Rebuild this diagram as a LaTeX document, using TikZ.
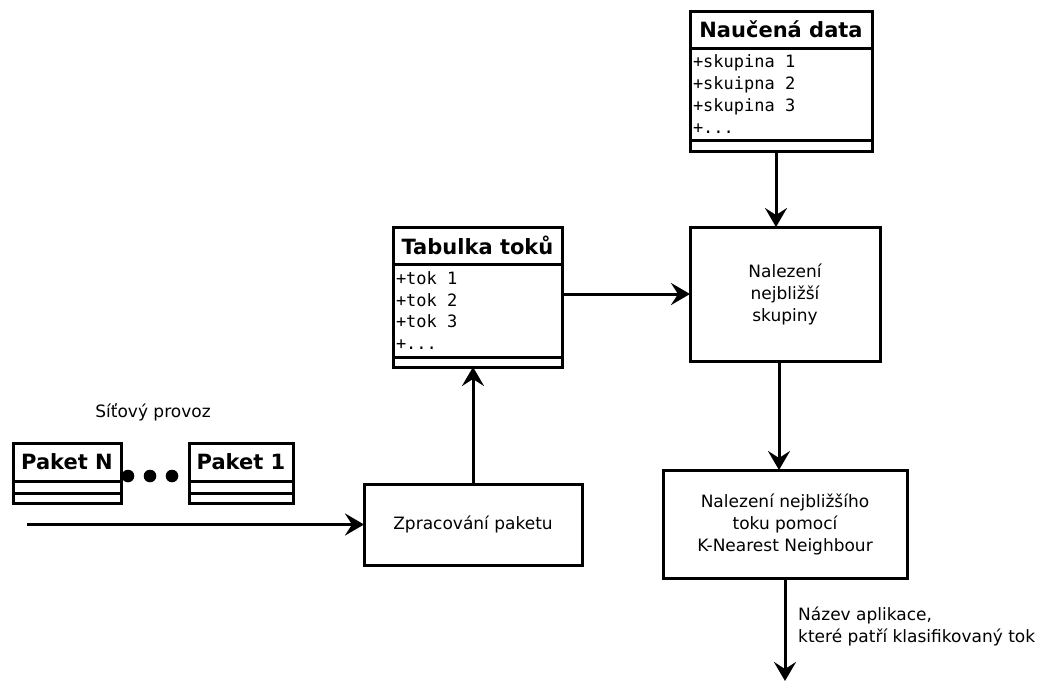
\documentclass[tikz,border=0pt]{standalone}
\usepackage{fontspec}
\setmainfont{DejaVu Sans}
\setmonofont{DejaVu Sans Mono}
\usetikzlibrary{arrows.meta}
% ragged alignment narrows interword spaces; restore the font's own space
\newcommand\monospaces{\spaceskip=0pt\xspaceskip=0pt\relax}
\begin{document}
\begin{tikzpicture}[x=1pt,y=-1pt,
  box/.style={draw, line width=3pt, anchor=north west, inner sep=0pt, outer sep=0pt},
  title/.style={box, font=\fontsize{21}{25}\selectfont\bfseries, align=center},
  attr/.style={box, font=\fontsize{17}{21.7}\selectfont\ttfamily, align=left, inner xsep=3pt},
  proc/.style={draw, line width=3pt, font=\fontsize{17}{22}\selectfont, align=center, inner sep=0pt, outer sep=0pt},
  lbl/.style={font=\fontsize{17}{22}\selectfont, align=left, inner sep=0pt},
  arr/.style={line width=3pt, -{Stealth[length=19pt,width=22pt,inset=7pt]}}
]
\path[use as bounding box] (0,0) rectangle (1040,683);

% class box: learned data
\node[title, minimum width=182pt, minimum height=37pt] (naucT) at (690,11) {Naučená data};
\node[attr, text width=176pt, minimum height=92pt] (naucA) at (690,48) {\monospaces+skupina 1\\+skuipna 2\\+skupina 3\\+...};
\node[box, minimum width=182pt, minimum height=11pt] (naucM) at (690,140) {};

% class box: flow table
\node[title, minimum width=169pt, minimum height=37pt] (tabT) at (393,227) {Tabulka toků};
\node[attr, text width=163pt, minimum height=93pt] (tabA) at (393,264) {\monospaces+tok 1\\+tok 2\\+tok 3\\+...};
\node[box, minimum width=169pt, minimum height=10pt] (tabM) at (393,357) {};

% packets
\node[title, minimum width=108pt, minimum height=38pt] (pNT) at (13,443) {Paket N};
\node[box, minimum width=108pt, minimum height=12pt] (pNA) at (13,481) {};
\node[box, minimum width=108pt, minimum height=10pt] (pNM) at (13,493) {};
\node[title, minimum width=104pt, minimum height=38pt] (p1T) at (189,443) {Paket 1};
\node[box, minimum width=104pt, minimum height=12pt] (p1A) at (189,481) {};
\node[box, minimum width=104pt, minimum height=10pt] (p1M) at (189,493) {};
\foreach \cx in {128,150,172} \fill (\cx,476) circle (6.3pt);
\node[lbl] (traffic) at (153,412) {Síťový provoz};

% processing steps
\node[proc, minimum width=190pt, minimum height=134pt] (group) at (785,294) {Nalezení\\nejbližší\\skupiny};
\node[proc, minimum width=244pt, minimum height=108pt] (knn) at (785,524) {Nalezení nejbližšího\\toku pomocí\\K-Nearest Neighbour};
\node[proc, minimum width=218pt, minimum height=81pt] (zpr) at (473,524.5) {Zpracování paketu};

% connectors
\coordinate (in) at (27,524.5);
\coordinate (out) at (785,681);
\draw[arr] (in) -- (zpr.west);
\draw[arr] (zpr.north) -- ([xshift=-4.5pt]tabM.south);
\draw[arr] (tabA.east |- group.west) -- (group.west);
\draw[arr] ([xshift=-5pt]naucM.south) -- ([xshift=-9pt]group.north);
\draw[arr] ([xshift=-6pt]group.south) -- ([xshift=-6pt]knn.north);
\draw[arr] (knn.south) -- (out);
\node[lbl, anchor=west] (result) at (798,626) {\monospaces Název aplikace,\\které patří klasifikovaný tok};
\end{tikzpicture}
\end{document}
